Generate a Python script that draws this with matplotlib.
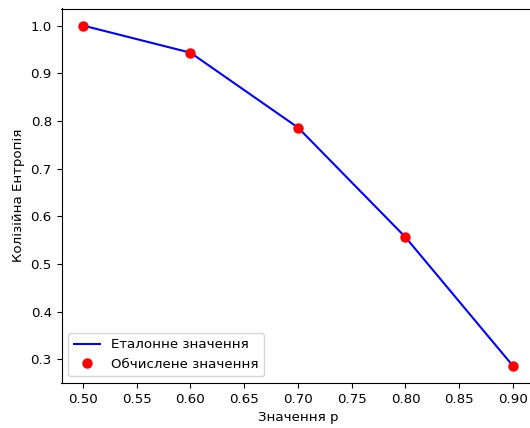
import matplotlib
matplotlib.use('Agg')
import matplotlib.pyplot as plt

plt.rcParams['font.size'] = 9.6

p_values = [0.5, 0.6, 0.7, 0.8, 0.9]
reference_entropy = [1.0, 0.943, 0.786, 0.556, 0.286]
computed_entropy = [1.0, 0.943, 0.786, 0.556, 0.286]

fig = plt.figure(figsize=(5.30, 4.28), dpi=100)
# права межа осей виходить за край картинки (як на оригіналі)
ax = fig.add_axes([61.5 / 530, 45 / 428, 473 / 530, 374.5 / 428])

ax.plot(p_values, reference_entropy, color='blue', label='Еталонне значення')
ax.plot(p_values, computed_entropy, 'o', color='red', markersize=6.5, label='Обчислене значення')

ax.set_xlabel('Значення p')
ax.set_ylabel('Колізійна Ентропія')
ax.set_xticks([0.5, 0.55, 0.6, 0.65, 0.7, 0.75, 0.8, 0.85, 0.9])
ax.set_xticklabels(['0.50', '0.55', '0.60', '0.65', '0.70', '0.75', '0.80', '0.85', '0.90'])
ax.legend(loc='lower left')

fig.savefig('out.png', dpi=100)
